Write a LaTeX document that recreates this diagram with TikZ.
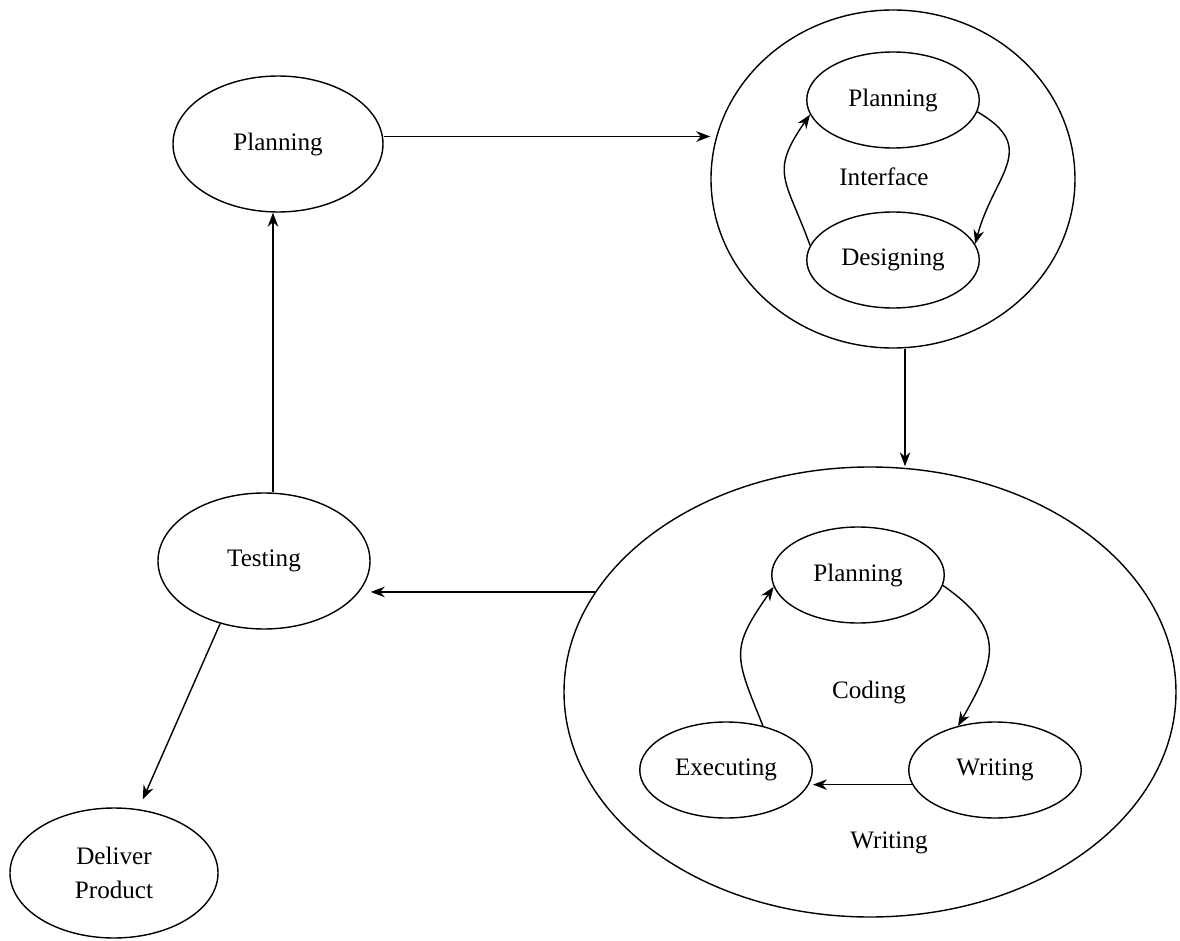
\documentclass[tikz,border=0pt]{standalone}
\usepackage{fontspec}
\setmainfont{Liberation Serif}
\usepackage{tikz}
\usetikzlibrary{shapes.geometric, arrows, arrows.meta}
\tikzstyle{phase} = [ellipse, minimum width=4.2cm, minimum height=2.72cm, inner sep=0pt, text centered, draw=black, line width=0.8pt]
\tikzstyle{group} = [ellipse, inner sep=0pt, draw=black, line width=0.8pt]
\tikzstyle{subphase} = [ellipse, minimum width=3.45cm, minimum height=1.92cm, inner sep=0pt, text centered, draw=black, line width=0.8pt]
\tikzstyle{arrow} = [line width=0.8pt, ->, >={Stealth[length=8pt, width=6pt]}]

\begin{document}
\begin{tikzpicture}[node distance=2cm, font=\fontsize{14.3}{19}\selectfont]
\useasboundingbox (-5.56,2.88) rectangle (18.04,-15.94);
\node (plan) [phase] {Planning};
\node (iface) [group, minimum width=7.28cm, minimum height=6.76cm, right of=plan, xshift=10.3cm, yshift=-0.7cm] {};
\node (iplan) [subphase, above of=iface, yshift=-0.42cm] {Planning};
\node (idesign) [subphase, below of=iplan, yshift=-1.2cm] {Designing};
\node (ilabel) [below of=iplan, yshift=0.46cm, xshift=-0.18cm] {Interface};
\node (coding) [group, minimum width=12.24cm, minimum height=9cm, below of=iface, yshift=-8.26cm, xshift=-0.46cm] {};
\node (cplan) [subphase, above of=coding, yshift=0.34cm, xshift=-0.24cm] {Planning};
\node (clabel) [below of=cplan, yshift=-0.34cm, xshift=0.22cm] {Coding};
\node (cwrite) [subphase, below of=coding, yshift=0.44cm, xshift=2.5cm] {Writing};
\node (cexec) [subphase, left of=cwrite, xshift=-3.38cm] {Executing};
\node (wlabel) [below of=coding, yshift=-1.02cm, xshift=0.38cm] {Writing};
\node (testing) [phase, minimum width=4.24cm, below of=plan, yshift=-6.34cm, xshift=-0.28cm] {Testing};
\node (deliver) [phase, minimum width=4.16cm, minimum height=2.6cm, align=center, below of=testing, yshift=-4.24cm, xshift=-3cm] {Deliver\\Product};

\draw [arrow] ([yshift=0.15cm]plan.east) -- ([yshift=0.15cm]plan.east -| iface.west);
\draw [arrow] (idesign.170) to [out=110, in=235, looseness=1.4] (iplan.190);
\draw [arrow] (iplan.352) to [out=-30, in=75, looseness=1.4] (idesign.11);
\draw [arrow] ([xshift=0.24cm]iface.south) -- ([xshift=0.24cm]iface.south |- coding.north);
\draw [arrow] (cplan.353) to [out=-35, in=60, looseness=1.4] (cwrite.130);
\draw [arrow] (cwrite.190) -- (cwrite.190 -| cexec.east);
\draw [arrow] (cexec.50) to [out=112, in=235, looseness=1.4] (cplan.188);
\draw [arrow] (coding.160) -- (coding.160 -| testing.east);
\draw [arrow] ([xshift=0.18cm]testing.north) -- ([xshift=0.18cm]testing.north |- plan.south);
\draw [arrow, shorten >=6pt] (testing.235) -- (deliver.69);
\end{tikzpicture}
\end{document}
